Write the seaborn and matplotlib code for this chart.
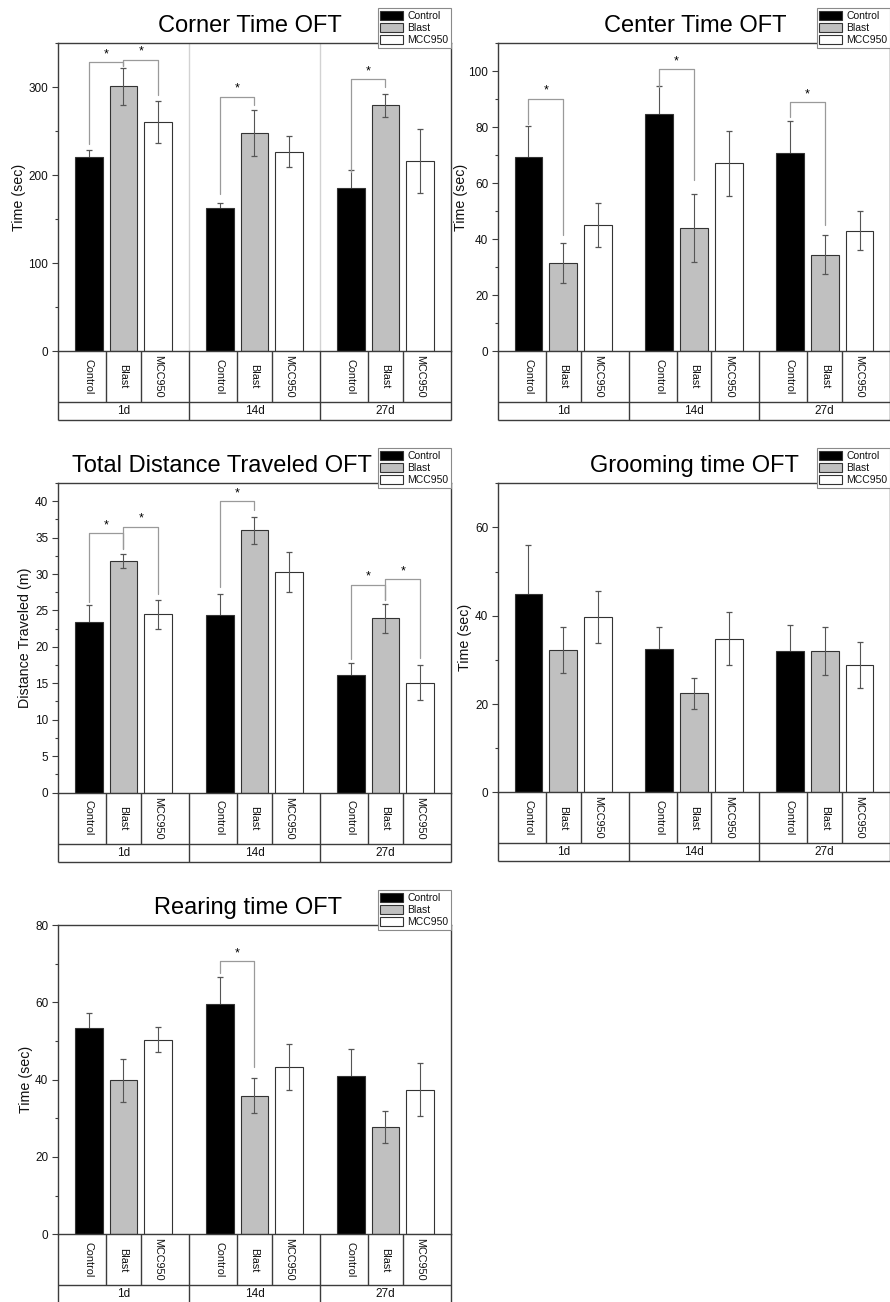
import numpy as np
import pandas as pd
import matplotlib
matplotlib.use("Agg")
import matplotlib.pyplot as plt
import seaborn as sns
from matplotlib.patches import Patch
from matplotlib.transforms import blended_transform_factory
from matplotlib.ticker import MultipleLocator

# ---------------- data ----------------
DAYS = ["1d", "14d", "27d"]
GROUPS = ["Control", "Blast", "MCC950"]

# rows: Control, Blast, MCC950 ; columns: 1d, 14d, 27d
corner_mean = [[221, 162.5, 185], [301, 247.5, 279], [260, 226.5, 215.5]]
corner_err = [[7, 6, 21], [21, 26, 13], [24, 17.5, 36.5]]
center_mean = [[69.4, 84.8, 70.6], [31.4, 43.9, 34.4], [45.0, 67.0, 42.9]]
center_err = [[11, 10, 11.6], [7, 12, 6.9], [7.8, 11.7, 7.0]]
dist_mean = [[23.4, 24.4, 16.2], [31.8, 36.0, 23.9], [24.5, 30.3, 15.1]]
dist_err = [[2.4, 2.8, 1.6], [1.0, 1.85, 1.95], [2.0, 2.75, 2.35]]
groom_mean = [[45.0, 32.4, 32.0], [32.3, 22.4, 32.0], [39.8, 34.8, 28.8]]
groom_err = [[11, 5, 6], [5.2, 3.6, 5.4], [5.9, 6.0, 5.2]]
rear_mean = [[53.4, 59.6, 40.9], [39.8, 35.9, 27.8], [50.3, 43.2, 37.4]]
rear_err = [[3.8, 7.0, 7.1], [5.5, 4.6, 4.2], [3.2, 6.0, 6.8]]

# significance brackets: (day, group_a, group_b, top, end_a, end_b)
corner_sig = [(0, 0, 1, 328, 235, 324), (0, 1, 2, 331, 324, 291),
              (1, 0, 1, 289, 178, 280), (2, 0, 1, 309, 203, 300)]
center_sig = [(0, 0, 1, 90, 81, 41.3), (1, 0, 1, 100.6, 94.3, 60.9),
              (2, 0, 1, 88.8, 83.4, 45)]
dist_sig = [(0, 0, 1, 35.6, 26.2, 33.4), (0, 1, 2, 36.5, 33.4, 27.3),
            (1, 0, 1, 40.0, 28.2, 38.8), (2, 0, 1, 28.5, 18.3, 26.5),
            (2, 1, 2, 29.3, 26.5, 18.5)]
groom_sig = []
rear_sig = [(1, 0, 1, 70.6, 67.7, 43.4)]

# ---------------- style ----------------
sns.set_theme(style="white")
plt.rcParams["font.family"] = ["Liberation Sans", "DejaVu Sans"]
plt.rcParams["text.color"] = "black"
plt.rcParams["axes.labelcolor"] = "black"
plt.rcParams["ytick.color"] = "black"

FIG_W, FIG_H = 890, 1302
fig = plt.figure(figsize=(FIG_W / 100, FIG_H / 100), dpi=100)
fig.patch.set_facecolor("white")

COLORS = {"Control": "#000000", "Blast": "#c0c0c0", "MCC950": "#ffffff"}
LINE_C = "#3c3c3c"


def make_panel(rect, title, title_x, ylabel, means, errs, ylim, major, sig, ylabel_x,
               group_lines=False, rows=(51, 18)):
    left, top, width, bottom = rect
    h = bottom - top
    ax = fig.add_axes([left / FIG_W, 1 - bottom / FIG_H, width / FIG_W, h / FIG_H])

    df = pd.DataFrame({
        "day": [d for g in GROUPS for d in DAYS],
        "group": [g for g in GROUPS for d in DAYS],
        "value": [v for row in means for v in row],
    })
    sns.barplot(data=df, x="day", y="value", hue="group", order=DAYS,
                hue_order=GROUPS, palette=COLORS, errorbar=None, gap=0.2,
                edgecolor="#333333", linewidth=0.8, legend=False, ax=ax,
                zorder=2)

    centers = [[p.get_x() + p.get_width() / 2 for p in cont] for cont in ax.containers]

    # error bars
    for gi, g in enumerate(GROUPS):
        for di in range(len(DAYS)):
            z = 1.5 if g == "Control" else 3
            _, caps, _ = ax.errorbar(centers[gi][di], means[gi][di], yerr=errs[gi][di],
                                     fmt="none", ecolor="#555555", elinewidth=0.8,
                                     capsize=2.2, capthick=0.9, zorder=z)
            for c in caps:
                c.set_color("#8f8f8f")

    # significance brackets
    for (d, ga, gb, ytop, ya, yb) in sig:
        xa, xb = centers[ga][d], centers[gb][d]
        ax.plot([xa, xa, xb, xb], [ya, ytop, ytop, yb], color="#9a9a9a", lw=0.9, zorder=4)
        ax.annotate("*", ((xa + xb) / 2, ytop), xytext=(0, 1.5), textcoords="offset points",
                    ha="center", va="bottom", fontsize=9, color="black")

    if group_lines:
        for xb in (0.5, 1.5):
            ax.axvline(xb, color="#d2d2d2", lw=1, zorder=0.5)

    # category table below the axis
    tr = blended_transform_factory(ax.transData, ax.transAxes)
    r1 = -rows[0] / h
    r2 = -(rows[0] + rows[1]) / h
    kw = dict(transform=tr, color=LINE_C, lw=1, clip_on=False, solid_capstyle="butt")
    ax.plot([-0.5, 2.5], [r1, r1], **kw)
    ax.plot([-0.5, 2.5], [r2, r2], **kw)
    for xb in (-0.5, 0.5, 1.5, 2.5):
        ax.plot([xb, xb], [0, r2], **kw)
    for di, day in enumerate(DAYS):
        c0, c1, c2 = centers[0][di], centers[1][di], centers[2][di]
        for xd in ((c0 + c1) / 2, (c1 + c2) / 2):
            ax.plot([xd, xd], [0, r1], **kw)
        for gi, g in enumerate(GROUPS):
            ax.text(centers[gi][di], r1 / 2, g, rotation=-90, ha="center", va="center",
                    transform=tr, fontsize=7.8, color="#111111")
        ax.text(di, (r1 + r2) / 2, day, ha="center", va="center", transform=tr,
                fontsize=8.5, color="#111111")

    # axes styling
    ax.set_xlim(-0.5, 2.5)
    ax.set_ylim(*ylim)
    ax.yaxis.set_major_locator(MultipleLocator(major))
    ax.yaxis.set_minor_locator(MultipleLocator(major / 2))
    ax.set_xticks([])
    ax.set_xlabel("")
    ax.tick_params(axis="y", which="major", direction="out", length=4, width=0.8,
                   labelsize=8.5, pad=3, left=True, color=LINE_C, labelcolor="#111111")
    ax.tick_params(axis="y", which="minor", direction="out", length=2.5, width=0.8,
                   left=True, color=LINE_C)
    for s in ax.spines.values():
        s.set_color(LINE_C)
        s.set_linewidth(1)
    ax.set_ylabel(ylabel, fontsize=10.3, color="#111111")
    ax.yaxis.set_label_coords(ylabel_x, 0.5)
    ax.set_title(title, fontsize=17, pad=8, x=title_x, color="black")

    handles = [Patch(facecolor=COLORS[g], edgecolor="#333333", lw=0.8, label=g) for g in GROUPS]
    leg = ax.legend(handles=handles, loc="upper right", bbox_to_anchor=(1.0, 1 + 35 / h),
                    borderaxespad=0, fontsize=7.5, frameon=True, fancybox=False,
                    edgecolor="#8a8a8a", framealpha=1, handlelength=2.2, handleheight=0.95,
                    handletextpad=0.4, labelspacing=0.2, borderpad=0.25, labelcolor="#111111")
    leg.get_frame().set_linewidth(0.8)
    leg.set_zorder(10)
    return ax


make_panel((58, 43, 393, 351), "Corner Time OFT", 0.489, "Time (sec)", corner_mean, corner_err,
           (0, 350), 100, corner_sig, -0.081, group_lines=True)
make_panel((498, 43, 392, 351), "Center Time OFT", 0.503, "Time (sec)", center_mean, center_err,
           (0, 110), 20, center_sig, -0.077)
make_panel((58, 483, 393, 792.5), "Total Distance Traveled OFT", 0.417, "Distance Traveled (m)",
           dist_mean, dist_err, (0, 42.5), 5, dist_sig, -0.066)
make_panel((498, 483.3, 392, 792.3), "Grooming time OFT", 0.5, "Time (sec)", groom_mean, groom_err,
           (0, 70), 20, groom_sig, -0.066)
make_panel((58, 925, 393, 1234.3), "Rearing time OFT", 0.483, "Time (sec)", rear_mean, rear_err,
           (0, 80), 20, rear_sig, -0.064)

fig.savefig("out.png", dpi=100, facecolor="white")
